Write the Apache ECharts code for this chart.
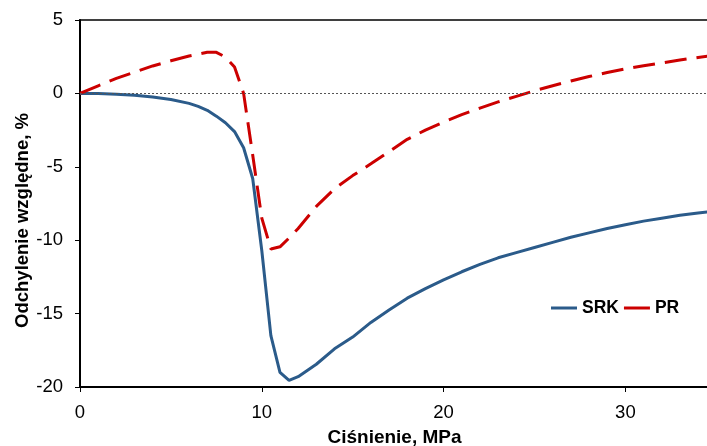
<!DOCTYPE html>
<html>
<head>
<meta charset="utf-8">
<script src="https://cdn.jsdelivr.net/npm/echarts@6/dist/echarts.min.js"></script>
<style>
  html, body { margin: 0; padding: 0; background: #fff; }
  #chart { width: 707px; height: 446px; }
</style>
</head>
<body>
<div id="chart"></div>
<script>
// pressure, MPa
const srkP = [0, 1, 2, 3, 4, 5, 6, 6.5, 7, 7.5, 8, 8.5, 9, 9.5, 10, 10.5, 11, 11.5, 12, 13, 14, 15, 16, 17, 18, 19, 20, 21, 22, 23, 24, 25, 26, 27, 28, 29, 30, 31, 32, 33, 34, 35];
const srkDev = [0, -0.01, -0.05, -0.12, -0.25, -0.42, -0.68, -0.88, -1.15, -1.55, -2.0, -2.6, -3.7, -5.8, -10.7, -16.5, -19.0, -19.55, -19.3, -18.45, -17.4, -16.6, -15.6, -14.75, -13.95, -13.3, -12.7, -12.15, -11.65, -11.2, -10.85, -10.5, -10.15, -9.8, -9.5, -9.2, -8.95, -8.7, -8.5, -8.3, -8.15, -8.0];

const prP = [0, 1, 2, 3, 4, 5, 6, 7, 7.5, 8, 8.5, 9, 9.5, 10, 10.5, 11, 11.5, 12, 13, 14, 15, 16, 17, 18, 19, 20, 21, 22, 23, 24, 25, 26, 27, 28, 29, 30, 31, 32, 33, 34, 35];
const prDev = [0, 0.52, 1.02, 1.45, 1.87, 2.22, 2.55, 2.8, 2.8, 2.48, 1.8, 0.0, -4.2, -8.5, -10.6, -10.45, -9.85, -9.2, -7.7, -6.5, -5.6, -4.8, -3.97, -3.13, -2.5, -1.95, -1.45, -1.0, -0.58, -0.2, 0.18, 0.52, 0.85, 1.15, 1.42, 1.67, 1.88, 2.08, 2.27, 2.45, 2.6];

const xTicks = [0, 10, 20, 30];
const yTicks = [-20, -15, -10, -5, 0, 5];

const pair = (xs, ys) => xs.map((x, i) => [x, ys[i]]);

const font = 'Liberation Sans, Arial, sans-serif';

const chart = echarts.init(document.getElementById('chart'), null, { renderer: 'canvas' });
chart.setOption({
  animation: false,
  backgroundColor: '#fff',
  grid: {
    left: 80, top: 20, bottom: 59, right: -2,
    containLabel: false, outerBoundsMode: 'none',
    show: true, borderColor: '#000', borderWidth: 1.5
  },
  legend: {
    left: 546, top: 294,
    itemWidth: 26, itemHeight: 3, itemGap: 5,
    icon: 'rect',
    textStyle: { fontFamily: font, fontSize: 17.5, fontWeight: 'bold', color: '#000' },
    data: ['SRK', 'PR']
  },
  xAxis: {
    type: 'value',
    min: xTicks[0], max: 34.6, interval: 10,
    name: 'Ciśnienie, MPa',
    nameLocation: 'middle', nameGap: 41, nameMoveOverlap: false,
    nameTextStyle: { fontFamily: font, fontSize: 19, fontWeight: 'bold', color: '#000' },
    axisLine: { onZero: false, lineStyle: { color: '#000', width: 2 } },
    axisTick: { show: true, inside: false, length: 5, lineStyle: { color: '#000' } },
    axisLabel: { margin: 16, showMaxLabel: false, fontFamily: font, fontSize: 18.5, color: '#000' },
    splitLine: { show: false }
  },
  yAxis: {
    type: 'value',
    min: yTicks[0], max: yTicks[yTicks.length - 1], interval: 5,
    name: 'Odchylenie względne, %',
    nameLocation: 'middle', nameGap: 48, nameMoveOverlap: false,
    nameTextStyle: { fontFamily: font, fontSize: 18.5, fontWeight: 'bold', color: '#000', padding: [0, 34, 0, 0] },
    axisLine: { show: true, lineStyle: { color: '#000', width: 2 } },
    axisTick: { show: true, inside: false, length: 5, lineStyle: { color: '#000' } },
    axisLabel: { margin: 17, fontFamily: font, fontSize: 18.5, color: '#000' },
    splitLine: { show: false }
  },
  series: [
    {
      name: 'SRK', type: 'line',
      data: pair(srkP, srkDev),
      showSymbol: false, symbol: 'none',
      lineStyle: { color: '#2b5b8a', width: 3 },
      itemStyle: { color: '#2b5b8a' },
      z: 3,
      markLine: {
        silent: true, symbol: 'none',
        label: { show: false },
        lineStyle: { color: '#555', type: [2, 2], width: 1 },
        data: [{ yAxis: 0 }]
      }
    },
    {
      name: 'PR', type: 'line',
      data: pair(prP, prDev),
      showSymbol: false, symbol: 'none',
      lineStyle: { color: '#cc0000', width: 3, type: [22, 10] },
      itemStyle: { color: '#cc0000' },
      z: 4
    }
  ]
});
</script>
</body>
</html>
